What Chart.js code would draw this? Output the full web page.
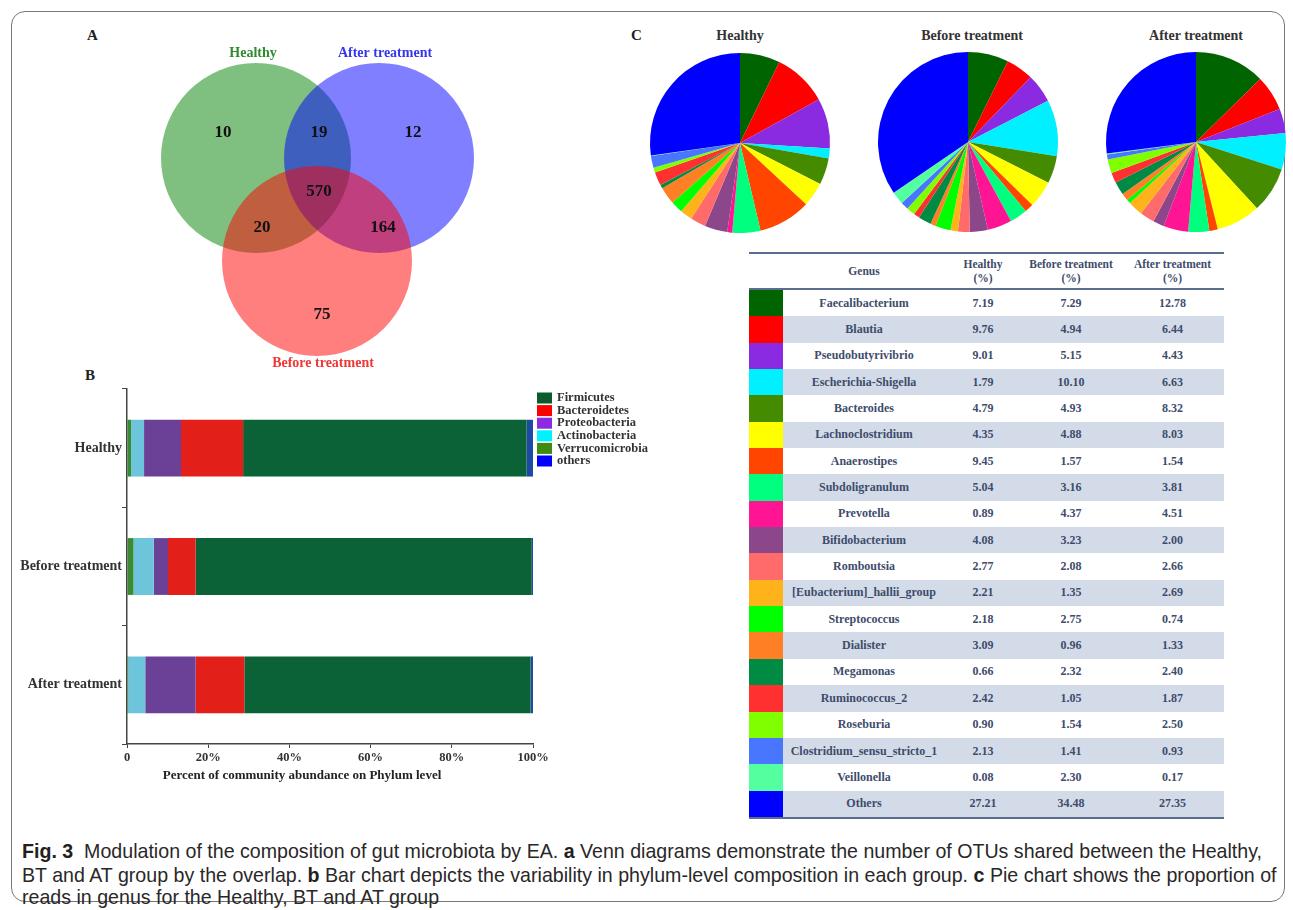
<!DOCTYPE html>
<html>
<head>
<meta charset="utf-8">
<script src="https://cdn.jsdelivr.net/npm/chart.js@4.4.1/dist/chart.umd.min.js"></script>
<style>
  html, body { margin: 0; padding: 0; background: #fff; width: 1293px; height: 910px; overflow: hidden; }
  canvas { position: absolute; }
  .frame { position: absolute; left: 11px; top: 11px; width: 1274px; height: 891px; border: 1px solid #777; border-radius: 14px; box-sizing: border-box; }
  .panel { position: absolute; font: bold 15px "Liberation Serif", "DejaVu Serif", serif; color: #222; }
  .pietitle { position: absolute; font: bold 14px "Liberation Serif", serif; color: #333; transform: translateX(-50%); white-space: nowrap; }
  #genusTable { position: absolute; left: 749px; top: 252px; width: 475px; border-collapse: collapse; table-layout: fixed;
    font-family: "Liberation Serif", "DejaVu Serif", serif; font-weight: bold; color: #3e4c6c; }
  #genusTable th { font-size: 11.5px; line-height: 14px; height: 34px; padding: 0; text-align: center; font-weight: bold;
    border-top: 2px solid #5a6d8e; border-bottom: 2px solid #5a6d8e; }
  #genusTable td { font-size: 12px; height: 26.35px; padding: 0; text-align: center; }
  #genusTable tr.shade td.v { background: #d3dbe8; }
  #genusTable tr:last-child td { border-bottom: 2px solid #5a6d8e; }
  .caption { position: absolute; left: 22px; font-family: "Liberation Sans", Arial, sans-serif; font-size: 21px; color: #2a2728;
    white-space: nowrap; line-height: 22px; transform-origin: 0 50%; }
  .caption b { font-weight: bold; color: #231f20; }
</style>
</head>
<body>
<div class="frame"></div>

<div class="panel" style="left:87px;top:27px;">A</div>
<div class="panel" style="left:85px;top:367px;">B</div>
<div class="panel" style="left:631px;top:27px;">C</div>

<canvas id="venn" width="440" height="360" style="left:100px;top:20px;"></canvas>
<canvas id="phylum" width="660" height="420" style="left:0px;top:370px;"></canvas>

<div class="pietitle" style="left:740px;top:28px;">Healthy</div>
<div class="pietitle" style="left:972px;top:28px;">Before treatment</div>
<div class="pietitle" style="left:1196px;top:28px;">After treatment</div>
<canvas id="pieHealthy" width="200" height="200" style="left:640px;top:43px;"></canvas>
<canvas id="pieBefore" width="200" height="200" style="left:868px;top:42px;"></canvas>
<canvas id="pieAfter" width="200" height="200" style="left:1096px;top:42px;"></canvas>

<table id="genusTable"></table>

<div class="caption" id="cap1" style="top:840px;"><b>Fig. 3</b>&nbsp; Modulation of the composition of gut microbiota by EA. <b>a</b> Venn diagrams demonstrate the number of OTUs shared between the Healthy,</div>
<div class="caption" style="top:864px;">BT and AT group by the overlap. <b>b</b> Bar chart depicts the variability in phylum-level composition in each group. <b>c</b> Pie chart shows the proportion of</div>
<div class="caption" style="top:886px;">reads in genus for the Healthy, BT and AT group</div>

<script>
// ---- Panel A: shared OTUs ----
const vennSets = ['Healthy', 'After treatment', 'Before treatment'];
const vennCounts = [10, 19, 12, 570, 20, 164, 75]; // H only, H∩A, A only, all, H∩B, A∩B, B only

// ---- Panel B: phylum-level composition (%) ----
const phylumGroups = ['Healthy', 'Before treatment', 'After treatment'];
const phyla = ['Verrucomicrobia', 'Actinobacteria', 'Proteobacteria', 'Bacteroidetes', 'Firmicutes', 'others'];
const verrucomicrobia = [1.0, 1.6, 0.3];
const actinobacteria = [3.2, 5.0, 4.2];
const proteobacteria = [9.1, 3.5, 12.4];
const bacteroidetes = [15.3, 6.8, 12.0];
const firmicutes = [69.8, 82.8, 70.5];
const otherPhyla = [1.6, 0.3, 0.6];
const percentTicks = ['0', '20%', '40%', '60%', '80%', '100%'];
const legendOrder = ['Firmicutes', 'Bacteroidetes', 'Proteobacteria', 'Actinobacteria', 'Verrucomicrobia', 'others'];
const phylumAxisTitle = 'Percent of community abundance on Phylum level';

// ---- Panel C: genus-level proportions (%) ----
const genera = ['Faecalibacterium', 'Blautia', 'Pseudobutyrivibrio', 'Escherichia-Shigella', 'Bacteroides',
  'Lachnoclostridium', 'Anaerostipes', 'Subdoligranulum', 'Prevotella', 'Bifidobacterium', 'Romboutsia',
  '[Eubacterium]_hallii_group', 'Streptococcus', 'Dialister', 'Megamonas', 'Ruminococcus_2', 'Roseburia',
  'Clostridium_sensu_stricto_1', 'Veillonella', 'Others'];
const healthyPct = [7.19, 9.76, 9.01, 1.79, 4.79, 4.35, 9.45, 5.04, 0.89, 4.08, 2.77, 2.21, 2.18, 3.09, 0.66, 2.42, 0.90, 2.13, 0.08, 27.21];
const beforePct = [7.29, 4.94, 5.15, 10.10, 4.93, 4.88, 1.57, 3.16, 4.37, 3.23, 2.08, 1.35, 2.75, 0.96, 2.32, 1.05, 1.54, 1.41, 2.30, 34.48];
const afterPct = [12.78, 6.44, 4.43, 6.63, 8.32, 8.03, 1.54, 3.81, 4.51, 2.00, 2.66, 2.69, 0.74, 1.33, 2.40, 1.87, 2.50, 0.93, 0.17, 27.35];

// ---- styling ----
const SERIF = '"Liberation Serif", "DejaVu Serif", serif';
const vennFill = ['rgba(0,128,0,0.5)', 'rgba(0,0,255,0.5)', 'rgba(255,0,0,0.5)'];
const vennText = ['#2e8b2e', '#3535ee', '#ef3535'];
const vennGeom = {
  centers: [[156, 138], [279, 138], [217, 241]],
  radius: 95,
  setLabelAt: [[153, 33], [285, 33], [223, 343]],
  regionAt: [[123, 113], [219, 113], [313, 113], [219, 172], [162, 208], [283, 208], [222, 295]]
};
const phylumColors = {
  Verrucomicrobia: '#3b8a34', Actinobacteria: '#6cc5da', Proteobacteria: '#6a4197',
  Bacteroidetes: '#e31f1a', Firmicutes: '#0b6236', others: '#1c4aa4'
};
const phylumSwatch = {
  Firmicutes: '#0a5c2e', Bacteroidetes: '#ff0000', Proteobacteria: '#8a2be2',
  Actinobacteria: '#00f2ff', Verrucomicrobia: '#3f8a10', others: '#0000ff'
};
const genusColors = ['#006400', '#ff0000', '#8a2be2', '#00f0ff', '#458b00', '#ffff00', '#ff4500', '#00ff7f',
  '#ff1493', '#8b4789', '#ff6a6a', '#ffb31a', '#00ff00', '#ff7f24', '#008b45', '#ff3030', '#7fff00',
  '#4876ff', '#54ff9f', '#0000ff'];

Chart.defaults.font.family = SERIF;

// ---- Venn diagram ----
const vennLabels = {
  id: 'vennLabels',
  afterDatasetsDraw(chart) {
    const { ctx, scales: { x, y } } = chart;
    ctx.save();
    ctx.textAlign = 'center';
    ctx.textBaseline = 'middle';
    ctx.font = 'bold 14px ' + SERIF;
    vennSets.forEach((name, i) => {
      ctx.fillStyle = vennText[i];
      const [px, py] = vennGeom.setLabelAt[i];
      ctx.fillText(name, x.getPixelForValue(px), y.getPixelForValue(py));
    });
    ctx.font = 'bold 17px ' + SERIF;
    ctx.fillStyle = '#111';
    vennCounts.forEach((n, i) => {
      const [px, py] = vennGeom.regionAt[i];
      ctx.fillText(String(n), x.getPixelForValue(px), y.getPixelForValue(py));
    });
    ctx.restore();
  }
};

new Chart(document.getElementById('venn'), {
  type: 'bubble',
  data: {
    // painted Healthy first, then After, then Before on top
    datasets: vennSets.map((name, i) => ({
      label: name,
      data: [{ x: vennGeom.centers[i][0], y: vennGeom.centers[i][1], r: vennGeom.radius }],
      backgroundColor: vennFill[i],
      borderWidth: 0,
      clip: false,
      order: vennSets.length - i
    }))
  },
  options: {
    responsive: false, animation: false, events: [],
    layout: { padding: 0, autoPadding: false },
    scales: {
      x: { type: 'linear', min: 0, max: 440, display: false },
      y: { type: 'linear', min: 0, max: 360, reverse: true, display: false }
    },
    plugins: { legend: { display: false }, tooltip: { enabled: false } }
  },
  plugins: [vennLabels]
});

// ---- Stacked phylum bars ----
const phylumValues = {
  Verrucomicrobia: verrucomicrobia, Actinobacteria: actinobacteria, Proteobacteria: proteobacteria,
  Bacteroidetes: bacteroidetes, Firmicutes: firmicutes, others: otherPhyla
};

const phylumDecor = {
  id: 'phylumDecor',
  afterDraw(chart) {
    const { ctx, chartArea } = chart;
    const x0 = chartArea.right + 4, y0 = chartArea.top + 3, step = 12.6;
    ctx.save();
    ctx.font = 'bold 12.5px ' + SERIF;
    ctx.textBaseline = 'middle';
    ctx.textAlign = 'left';
    legendOrder.forEach((name, i) => {
      const cy = y0 + i * step + 6;
      ctx.fillStyle = phylumSwatch[name];
      ctx.fillRect(x0, cy - 5.5, 15, 11);
      ctx.fillStyle = '#333';
      ctx.fillText(name, x0 + 20, cy);
    });
    // axis title
    ctx.font = 'bold 13px ' + SERIF;
    ctx.textAlign = 'center';
    ctx.fillStyle = '#222';
    ctx.fillText(phylumAxisTitle, chartArea.left + 175, chartArea.bottom + 32);
    ctx.restore();
  }
};

new Chart(document.getElementById('phylum'), {
  type: 'bar',
  data: {
    labels: phylumGroups,
    datasets: phyla.map(name => ({
      label: name,
      data: phylumValues[name],
      backgroundColor: phylumColors[name],
      borderWidth: 0
    }))
  },
  options: {
    indexAxis: 'y', responsive: false, animation: false, events: [],
    layout: { padding: { left: 0, top: 19, right: 127, bottom: 7 } },
    datasets: { bar: { barPercentage: 0.48, categoryPercentage: 1 } },
    scales: {
      x: {
        stacked: true, min: 0, max: 100,
        ticks: { stepSize: 20, maxRotation: 0, padding: 2, color: '#333',
          font: { family: SERIF, weight: 'bold', size: 12.5 },
          callback: (v, i) => percentTicks[i] },
        grid: { drawOnChartArea: false, tickLength: 4, color: '#444' },
        border: { color: '#444', width: 1.5 },
        afterFit: s => { s.height = 39; }
      },
      y: {
        stacked: true, offset: true,
        ticks: { padding: 0, color: '#333', font: { family: SERIF, weight: 'bold', size: 14 } },
        grid: { offset: true, drawOnChartArea: false, tickLength: 5, color: '#444' },
        border: { color: '#444', width: 1.5 },
        afterFit: s => { s.width = 127; }
      }
    },
    plugins: { legend: { display: false }, tooltip: { enabled: false } }
  },
  plugins: [phylumDecor]
});

// ---- Genus pies ----
function genusPie(id, values) {
  new Chart(document.getElementById(id), {
    type: 'pie',
    data: { labels: genera, datasets: [{ data: values, backgroundColor: genusColors, borderWidth: 0 }] },
    options: {
      responsive: false, animation: false, events: [],
      layout: { padding: 10 },
      plugins: { legend: { display: false }, tooltip: { enabled: false } }
    }
  });
}
genusPie('pieHealthy', healthyPct);
genusPie('pieBefore', beforePct);
genusPie('pieAfter', afterPct);

// ---- Genus table ----
const table = document.getElementById('genusTable');
const colWidths = [34, 162, 76, 100, 103];
const colgroup = document.createElement('colgroup');
colWidths.forEach(w => { const c = document.createElement('col'); c.style.width = w + 'px'; colgroup.appendChild(c); });
table.appendChild(colgroup);
const head = document.createElement('tr');
['', 'Genus', 'Healthy<br>(%)', 'Before treatment<br>(%)', 'After treatment<br>(%)'].forEach(h => {
  const th = document.createElement('th'); th.innerHTML = h; head.appendChild(th);
});
table.appendChild(head);
genera.forEach((g, i) => {
  const tr = document.createElement('tr');
  if (i % 2 === 1) tr.className = 'shade';
  const sw = document.createElement('td'); sw.style.background = genusColors[i]; tr.appendChild(sw);
  [g, healthyPct[i].toFixed(2), beforePct[i].toFixed(2), afterPct[i].toFixed(2)].forEach(t => {
    const td = document.createElement('td'); td.className = 'v'; td.textContent = t; tr.appendChild(td);
  });
  table.appendChild(tr);
});

// ---- Caption: condensed to the column width ----
const cap1 = document.getElementById('cap1');
const squeeze = 1240 / cap1.scrollWidth;
document.querySelectorAll('.caption').forEach(el => { el.style.transform = 'scaleX(' + squeeze + ')'; });
</script>
</body>
</html>
